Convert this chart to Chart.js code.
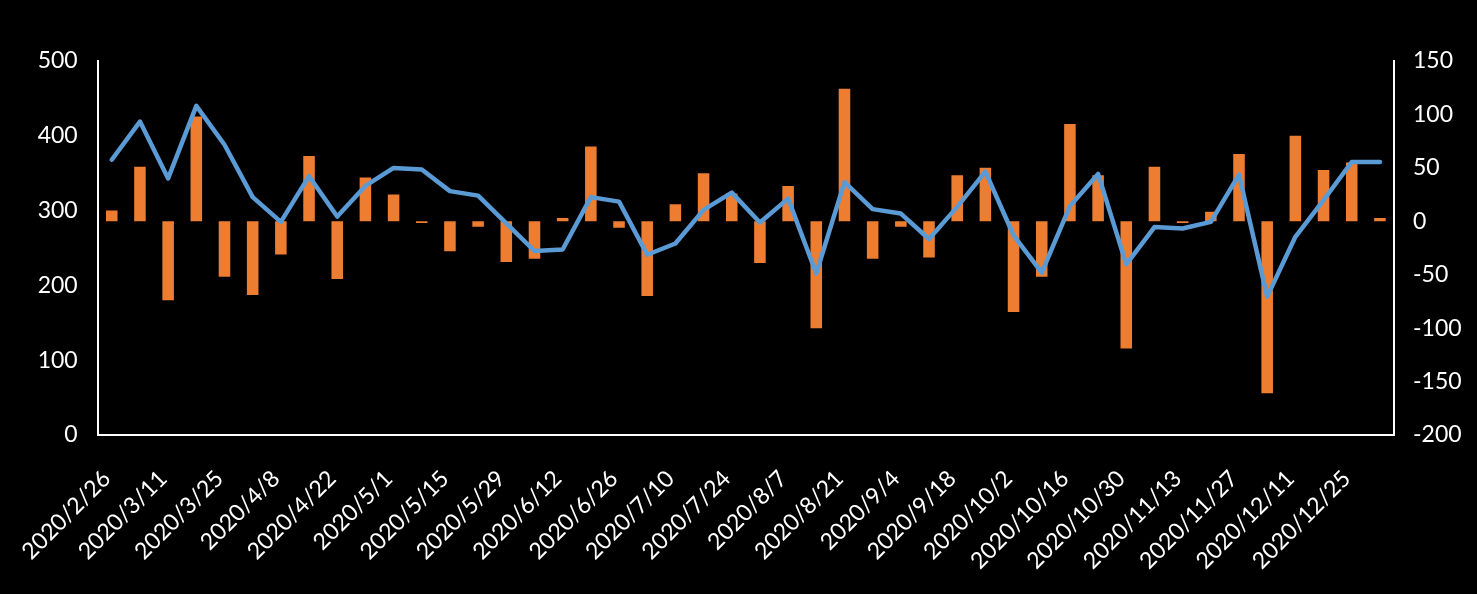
<!DOCTYPE html>
<html>
<head>
<meta charset="utf-8">
<script src="https://cdn.jsdelivr.net/npm/chart.js@4/dist/chart.umd.min.js"></script>
<style>
  html, body { margin: 0; padding: 0; background: #000; }
  #wrap { width: 1477px; height: 594px; position: relative; background: #000; }
</style>
</head>
<body>
<div id="wrap"><canvas id="c"></canvas></div>
<script>
const categories = [
  "2020/2/26","2020/3/4","2020/3/11","2020/3/18","2020/3/25","2020/4/1","2020/4/8","2020/4/15",
  "2020/4/22","2020/4/24","2020/5/1","2020/5/8","2020/5/15","2020/5/22","2020/5/29","2020/6/5",
  "2020/6/12","2020/6/19","2020/6/26","2020/7/3","2020/7/10","2020/7/17","2020/7/24","2020/7/31",
  "2020/8/7","2020/8/14","2020/8/21","2020/8/28","2020/9/4","2020/9/11","2020/9/18","2020/9/25",
  "2020/10/2","2020/10/9","2020/10/16","2020/10/23","2020/10/30","2020/11/6","2020/11/13","2020/11/20",
  "2020/11/27","2020/12/4","2020/12/11","2020/12/18","2020/12/25","2020/12/31"
];
// line series (left axis)
const lineValues = [
  368, 419, 343, 440, 388, 318, 285, 346, 292, 333, 357, 355, 326, 320, 283, 246,
  248, 318, 312, 241, 256, 301, 324, 284, 316, 216, 338, 302, 296, 262, 305, 352,
  267, 217, 306, 349, 228, 278, 276, 285, 348, 185, 265, 314, 365, 365
];
// bar series (right axis)
const barValues = [
  10, 51, -74, 98, -52, -69, -31, 61, -54, 41, 25, -1.5, -28, -5, -38, -35,
  3, 70, -6, -70, 16, 45, 26, -39, 33, -100, 124, -35, -5, -34, 43, 50,
  -85, -52, 91, 43, -119, 51, -1.5, 9, 63, -161, 80, 48, 55, 3
];
const leftTicks = { min: 0, max: 500, step: 100 };
const rightTicks = { min: -200, max: 150, step: 50 };

const FONT = { family: "Lato, 'Open Sans', sans-serif", size: 23 };

new Chart(document.getElementById('c'), {
  data: {
    labels: categories,
    datasets: [
      {
        type: 'line',
        data: lineValues,
        yAxisID: 'y',
        borderColor: '#5B9BD5',
        borderWidth: 4.5,
        borderJoinStyle: 'round',
        borderCapStyle: 'round',
        pointRadius: 0,
        tension: 0,
        fill: false,
        order: 0
      },
      {
        type: 'bar',
        data: barValues,
        yAxisID: 'y1',
        backgroundColor: '#ED7D31',
        borderWidth: 0,
        barPercentage: 0.41,
        categoryPercentage: 1.0,
        order: 1
      }
    ]
  },
  options: {
    responsive: true,
    maintainAspectRatio: false,
    animation: false,
    devicePixelRatio: 1,
    layout: { padding: { top: 61, left: 0, right: 0, bottom: 0 } },
    plugins: { legend: { display: false }, tooltip: { enabled: false } },
    scales: {
      x: {
        type: 'category',
        offset: true,
        grid: { display: false, drawTicks: false },
        border: { display: true, color: '#ffffff', width: 2 },
        ticks: {
          color: '#ffffff',
          font: FONT,
          autoSkip: false,
          minRotation: 45,
          maxRotation: 45,
          padding: 30,
          labelOffset: -5,
          callback: function (value, index) { return index % 2 === 0 ? this.getLabelForValue(value) : ''; }
        },
        afterFit: (s) => { s.height = 159; }
      },
      y: {
        position: 'left',
        min: leftTicks.min, max: leftTicks.max,
        grid: { display: false, drawTicks: false },
        border: { display: true, color: '#ffffff', width: 2 },
        ticks: { color: '#ffffff', font: FONT, stepSize: leftTicks.step, padding: 20 },
        afterFit: (s) => { s.width = 96; }
      },
      y1: {
        position: 'right',
        min: rightTicks.min, max: rightTicks.max,
        grid: { display: false, drawTicks: false },
        border: { display: true, color: '#ffffff', width: 2 },
        ticks: { color: '#ffffff', font: FONT, stepSize: rightTicks.step, padding: 19 },
        afterFit: (s) => { s.width = 83; }
      }
    }
  }
});
</script>
</body>
</html>
